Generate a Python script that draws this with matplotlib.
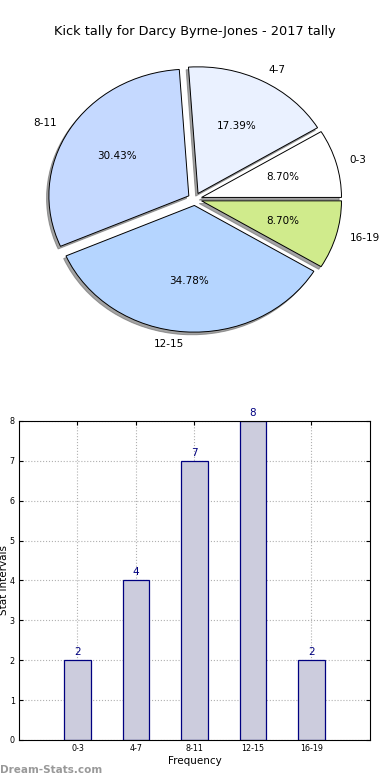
import matplotlib
matplotlib.use('Agg')
import matplotlib.pyplot as plt

# Dati del grafico
categories = ['0-3', '4-7', '8-11', '12-15', '16-19']
counts = [2, 4, 7, 8, 2]
pie_colors = ['#ffffff', '#eaf1ff', '#c5d9ff', '#b5d5ff', '#d0eb8c']

fig = plt.figure(figsize=(3.9, 7.8), dpi=100)

# Grafico a torta in alto
ax_pie = fig.add_axes([0.051, 0.5417, 0.897, 0.406])
wedges, texts, autotexts = ax_pie.pie(
    counts, labels=categories, colors=pie_colors, autopct='%.2f%%',
    explode=[0.05] * len(counts),
    shadow={'ox': -0.012, 'oy': -0.015, 'facecolor': '#666666',
            'edgecolor': '#666666', 'alpha': 0.6},
    startangle=0,
    wedgeprops={'edgecolor': 'black', 'linewidth': 0.7},
    textprops={'fontsize': 7.5})
ax_pie.set_aspect('auto')
ax_pie.set_xlim(-1.25, 1.25)
ax_pie.set_ylim(-1.25, 1.25)
ax_pie.set_title('Kick tally for Darcy Byrne-Jones - 2017 tally', fontsize=9.3, pad=4)

# Grafico a barre in basso
ax_bar = fig.add_axes([0.0487, 0.0513, 0.9, 0.409])
x = list(range(1, len(categories) + 1))
bars = ax_bar.bar(x, counts, width=0.45, color='#ccccdd', edgecolor='#000080', linewidth=0.9, zorder=2)
for xi, c in zip(x, counts):
    ax_bar.text(xi, c + 0.08, str(c), ha='center', va='bottom', color='#000080', fontsize=7.5)
ax_bar.set_xlim(0, 6)
ax_bar.set_ylim(0, 8)
ax_bar.set_xticks(x)
ax_bar.set_xticklabels(categories)
ax_bar.set_yticks(range(0, 9))
ax_bar.tick_params(labelsize=5.8, direction='in', top=True, right=True, length=3, pad=3)
ax_bar.grid(True, linestyle=':', color='#b0b0b0', linewidth=0.8, zorder=0)
ax_bar.set_axisbelow(True)
ax_bar.set_xlabel('Frequency', fontsize=7.5, labelpad=2)
ax_bar.set_ylabel('Stat Intervals', fontsize=7.5, labelpad=0.5)

# Watermark
fig.text(0.0, 0.0128, 'Dream-Stats.com', color='#999999', fontsize=7.5, fontweight='bold', ha='left', va='center')

fig.savefig('out.png', dpi=100)
